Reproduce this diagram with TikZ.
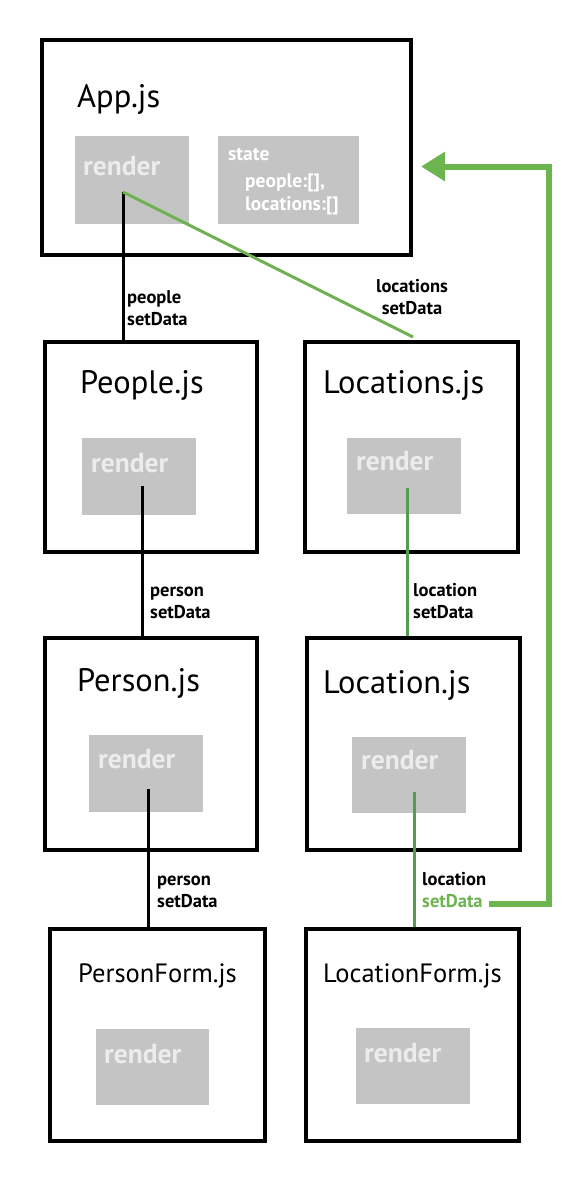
\documentclass[tikz,border=0pt]{standalone}
\usepackage{fontspec}
\setmainfont{PT Sans}
\usetikzlibrary{arrows.meta}
\definecolor{boxgrey}{RGB}{196,196,196}
\definecolor{rendertxt}{RGB}{236,236,236}
\definecolor{lightgreen}{RGB}{108,180,78}
\definecolor{darkgreen}{RGB}{84,156,84}
\tikzset{
  compbox/.style 2 args={draw=black, line width=4pt, minimum width=#1, minimum height=#2, inner sep=0pt},
  greybox/.style 2 args={fill=boxgrey, minimum width=#1, minimum height=#2, inner sep=0pt},
  title/.style={anchor=base west, inner sep=0pt, font=\fontsize{32.5}{34}\selectfont},
  ftitle/.style={anchor=base west, inner sep=0pt, font=\fontsize{26.5}{28}\selectfont},
  rtxt/.style={anchor=base west, inner sep=0pt, text=rendertxt, font=\bfseries\fontsize{27.5}{29}\selectfont},
  stxt/.style={anchor=base west, inner sep=0pt, text=white, font=\bfseries\fontsize{19.5}{21}\selectfont},
  lbl/.style={anchor=base west, inner sep=0pt, font=\bfseries\fontsize{18.5}{22}\selectfont},
  blackconn/.style={draw=black, line width=3pt},
  greenconn/.style={draw=darkgreen, line width=3pt},
  lightconn/.style={draw=lightgreen, line width=3pt},
  bigarrow/.style={draw=lightgreen, line width=6pt, -{Triangle[length=24pt,width=28pt]}},
}
\newcommand{\twolines}[3][l]{\begin{tabular}[t]{@{}#1@{}}#2\\#3\end{tabular}}
\begin{document}
\begin{tikzpicture}[x=1pt,y=-1pt]
\useasboundingbox (0,0) rectangle (580,1192);
% component boxes
\node[compbox={369pt}{215pt}] (app) at (226.5,147.5) {};
\node[compbox={212pt}{210pt}] (people) at (151,447) {};
\node[compbox={213pt}{210pt}] (locations) at (411.5,447) {};
\node[compbox={212pt}{212pt}] (person) at (151,744) {};
\node[compbox={213pt}{212pt}] (location) at (413.5,744) {};
\node[compbox={215pt}{212pt}] (personform) at (157.5,1035) {};
\node[compbox={213pt}{212pt}] (locationform) at (412.5,1035) {};
% grey boxes
\node[greybox={114pt}{88pt}] (appR) at (132,180) {};
\node[greybox={141pt}{88pt}] (appS) at (288.5,180) {};
\node[greybox={114pt}{77pt}] (peopleR) at (139,476.5) {};
\node[greybox={114pt}{76pt}] (locationsR) at (404,476) {};
\node[greybox={114pt}{77pt}] (personR) at (146,773.5) {};
\node[greybox={114pt}{76pt}] (locationR) at (409,775) {};
\node[greybox={113pt}{76pt}] (personformR) at (152.5,1067) {};
\node[greybox={114pt}{76pt}] (locationformR) at (413,1066) {};
% titles
\node[title] (tApp) at (77,107) {App.js};
\node[title] (tPeople) at (80,393) {People.js};
\node[title] (tLocations) at (323,393) {Locations.js};
\node[title] (tPerson) at (77,691) {Person.js};
\node[title] (tLocation) at (323,693) {Location.js};
\node[ftitle] (tPersonForm) at (78,982) {PersonForm.js};
\node[ftitle] (tLocationForm) at (323,982) {LocationForm.js};
% render labels
\node[rtxt] (rApp) at (83,175) {render};
\node[rtxt] (rPeople) at (91,472) {render};
\node[rtxt] (rLocations) at (356,470) {render};
\node[rtxt] (rPerson) at (98,768) {render};
\node[rtxt] (rLocation) at (361,769) {render};
\node[rtxt] (rPersonForm) at (104,1063) {render};
\node[rtxt] (rLocationForm) at (364,1062) {render};
% state
\node[stxt] (s1) at (228,160) {state};
\node[stxt] (s2) at (245,187) {people:[],};
\node[stxt] (s3) at (245,210) {locations:[]};
% connector start points inside render boxes
\coordinate (cApp) at (123,192);
\coordinate (cPeople) at (142,486);
\coordinate (cLocations) at (407,488);
\coordinate (cPerson) at (148,789);
\coordinate (cLocation) at (414,792);
\coordinate (eLocations) at (413,337);
\coordinate (aRight) at (549,903.5);
\coordinate (aTop) at (549,166.5);
\coordinate (aTip) at (421,166.5);
% connectors
\draw[blackconn] (cApp) -- (cApp |- people.north);
\draw[lightconn] (cApp) -- (eLocations);
\draw[blackconn] (cPeople) -- (cPeople |- person.north);
\draw[greenconn] (cLocations) -- (cLocations |- location.north);
\draw[blackconn] (cPerson) -- (cPerson |- personform.north);
\draw[greenconn] (cLocation) -- (cLocation |- locationform.north);
% labels
\node[lbl] (l1) at (127,303) {\twolines{people}{setData}};
\node[lbl, anchor=base] (l2) at (412,292) {\twolines[c]{locations}{setData}};
\node[lbl] (l3) at (150,596) {\twolines{person}{setData}};
\node[lbl] (l4) at (413,596) {\twolines{location}{setData}};
\node[lbl] (l5) at (157,885) {\twolines{person}{setData}};
\node[lbl] (l6) at (422,885) {\twolines{location}{\textcolor{lightgreen}{setData}}};
% big feedback arrow
\draw[bigarrow] (l6.east |- aRight) ++(3,0) -- (aRight) -- (aTop) -- (aTip);
\end{tikzpicture}
\end{document}
